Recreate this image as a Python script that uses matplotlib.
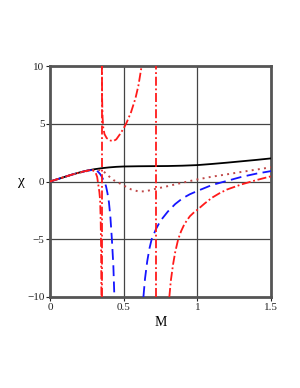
import numpy as np
import matplotlib
matplotlib.use("Agg")
import matplotlib.pyplot as plt

# ---- data ----
black_M = [0, 0.05, 0.1, 0.15, 0.2, 0.25, 0.3, 0.35, 0.4, 0.45, 0.5, 0.6, 0.7, 0.8, 0.9, 1.0, 1.1, 1.2, 1.3, 1.4, 1.5]
black_chi = [0, 0.2, 0.4, 0.6, 0.78, 0.94, 1.06, 1.15, 1.22, 1.27, 1.3, 1.32, 1.33, 1.34, 1.37, 1.42, 1.52, 1.63, 1.75, 1.87, 2.0]

blue_left_M = [0, 0.05, 0.1, 0.15, 0.2, 0.25, 0.29, 0.31, 0.326, 0.34, 0.35, 0.36, 0.37, 0.38, 0.39, 0.40, 0.41, 0.42, 0.43, 0.437]
blue_left_chi = [0, 0.2, 0.4, 0.6, 0.78, 0.93, 1.0, 0.97, 0.85, 0.65, 0.45, 0.2, -0.05, -0.4, -1.0, -1.8, -3.1, -5.0, -7.3, -10]
blue_right_M = [0.634, 0.645, 0.66, 0.675, 0.69, 0.72, 0.75, 0.8, 0.85, 0.9, 0.95, 1.0, 1.1, 1.2, 1.3, 1.4, 1.5]
blue_right_chi = [-10, -8.4, -6.9, -5.8, -5.0, -4.1, -3.4, -2.6, -1.95, -1.45, -1.1, -0.82, -0.3, 0.05, 0.4, 0.68, 0.9]

dot_M = [0, 0.05, 0.1, 0.15, 0.2, 0.25, 0.3, 0.35, 0.37, 0.4, 0.43, 0.45, 0.5, 0.55, 0.6, 0.65, 0.7, 0.8, 0.9, 1.0, 1.1, 1.2, 1.3, 1.4, 1.5]
dot_chi = [0, 0.2, 0.4, 0.59, 0.76, 0.9, 1.0, 0.98, 0.8, 0.45, 0.13, 0.0, -0.35, -0.68, -0.86, -0.85, -0.68, -0.4, -0.1, 0.18, 0.42, 0.62, 0.83, 1.03, 1.23]

red_a_M = [0, 0.05, 0.1, 0.15, 0.2, 0.25, 0.276, 0.29, 0.3, 0.31, 0.32, 0.328, 0.335, 0.34, 0.344, 0.347, 0.349]
red_a_chi = [0, 0.2, 0.4, 0.6, 0.78, 0.93, 1.0, 0.97, 0.9, 0.75, 0.4, -0.3, -0.9, -1.6, -3.3, -6, -10]
red_b_M = [0.352, 0.354, 0.357, 0.362, 0.37, 0.385, 0.41, 0.43, 0.45, 0.475, 0.5, 0.52, 0.55, 0.58, 0.60, 0.622]
red_b_chi = [10, 7, 5.5, 4.6, 4.1, 3.75, 3.55, 3.5, 3.65, 4.1, 4.6, 5.1, 6.0, 7.2, 8.3, 10]
red_c_M = [0.81, 0.82, 0.835, 0.85, 0.87, 0.89, 0.91, 0.93, 0.95, 0.975, 1.0, 1.05, 1.1, 1.15, 1.2, 1.3, 1.4, 1.5]
red_c_chi = [-10, -8.6, -7.2, -6.1, -5.0, -4.3, -3.75, -3.35, -3.0, -2.7, -2.45, -1.9, -1.4, -1.02, -0.7, -0.25, 0.12, 0.45]
red_asymptotes = [0.351, 0.72]

xticks = [0, 0.5, 1, 1.5]
xticklabels = ["0", "0.5", "1", "1.5"]
yticks = [-10, -5, 0, 5, 10]
yticklabels = ["\u221210", "\u22125", "0", "5", "10"]

# ---- figure ----
fig = plt.figure(figsize=(3.0, 3.88), dpi=100)
ax = fig.add_axes([50/300, 91/388, 221/300, 231/388])
ax.set_xlim(0, 1.5)
ax.set_ylim(-10, 10)

for v in [0.5, 1.0]:
    ax.axvline(v, color="#444444", lw=0.9, zorder=1)
for v in [-5, 0, 5]:
    ax.axhline(v, color="#444444", lw=0.9, zorder=1)

red = "#ff1a1a"
dashdot = (0, (5, 1.5, 1, 1.5))
lw = 1.3

ax.plot(black_M, black_chi, color="black", lw=lw, zorder=3)
ax.plot(blue_left_M, blue_left_chi, color="#1515ff", lw=lw, ls=(0, (6, 3)), zorder=3)
ax.plot(blue_right_M, blue_right_chi, color="#1515ff", lw=lw, ls=(0, (6, 3)), zorder=3)
ax.plot(dot_M, dot_chi, color="#c04848", lw=1.4, ls=(0, (1, 2.2)), zorder=3)
ax.plot(red_a_M, red_a_chi, color=red, lw=lw, ls=dashdot, zorder=4)
ax.plot(red_b_M, red_b_chi, color=red, lw=lw, ls=dashdot, zorder=4)
ax.plot(red_c_M, red_c_chi, color=red, lw=lw, ls=dashdot, zorder=4)
for a in red_asymptotes:
    ax.plot([a, a], [-10, 10], color=red, lw=lw, ls=dashdot, zorder=4)

for s in ax.spines.values():
    s.set_linewidth(2.0)
    s.set_color("#555555")

ax.set_xticks(xticks)
ax.set_xticklabels(xticklabels)
ax.set_yticks(yticks)
ax.set_yticklabels(yticklabels)
ax.tick_params(direction="out", length=3, width=0.8, colors="#222222", labelsize=8, pad=1)
for lab in ax.get_xticklabels() + ax.get_yticklabels():
    lab.set_family("Liberation Serif")

ax.set_xlabel("M", fontsize=10, family="Liberation Serif", labelpad=3)
ax.set_ylabel("\u03c7", fontsize=11, family="Liberation Serif", rotation=0, labelpad=4, va="center")

fig.savefig("out.png", dpi=100)
